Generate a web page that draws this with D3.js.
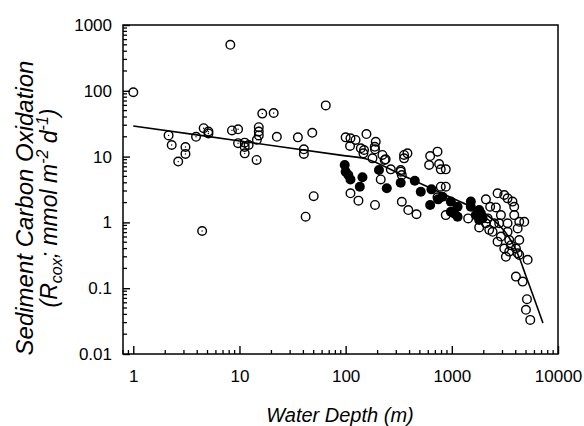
<!DOCTYPE html>
<html><head><meta charset="utf-8">
<script src="https://cdn.jsdelivr.net/npm/d3@7"></script>
<style>body{margin:0;background:#fff}svg{display:block}</style>
</head><body>
<svg id="c" width="584" height="426"></svg>
<script>
// Shallow open circles drawn with a centre dot (water depth m, rate mmol m-2 d-1)
const dotDepth = [2.15, 2.3, 2.65, 3.1, 3.1, 3.9, 4.6, 5.1, 5.1, 8.5, 9.7, 9.7, 11.2, 11.2, 11.2, 12.2, 14.5, 14.6, 15.2, 15.2, 15.2, 16.4, 21, 4.45];
const dotRate = [21, 15, 8.4, 14, 11, 20, 27, 24, 22.5, 25, 26, 16, 16.3, 14, 11.2, 15, 8.9, 18, 28, 24, 21, 45, 46, 0.74];
// Open circles
const openDepth = [1, 8.2, 22.5,
  35.5, 48.5, 40.4, 40.4, 50, 42, 65, 100, 111, 110, 124, 157, 192, 189, 139, 147, 222, 238, 179, 266, 330, 338, 382, 355, 214, 111, 132, 189, 338, 389, 465,
  188, 149, 233, 355, 625, 733, 611, 759, 787, 877, 787, 877, 877, 1425, 1810, 2094, 2297, 2697, 3117, 3350, 3726, 3870, 2600, 2094, 2250, 2794, 2900, 3473,
  4317, 4810, 4317, 3119, 4015, 3230, 4317, 5180, 4015, 4645, 5100, 4990, 5480, 330, 733,
  2506, 3350, 2900, 2421, 3350, 3603, 2697, 4170, 3473, 2173, 4170, 3870];
const openRate = [95, 500, 20,
  19.6, 23, 12.9, 11, 2.5, 1.22, 60, 19.6, 19, 14.5, 17.9, 22, 16.8, 12.9, 13.4, 11.2, 10.6, 9.1, 9.4, 6.4, 6.25, 5.25, 11.2, 9.4, 4.5, 2.77, 2.14, 1.84, 2.06, 1.54, 1.33,
  14.1, 12.6, 8.9, 10.6, 10.2, 11.9, 7.45, 7.7, 6.4, 6.4, 3.49, 3.49, 1.29, 1.15, 0.84, 2.24, 1.73, 2.77, 2.61, 2.32, 2.07, 1.73, 1.69, 0.97, 0.77, 0.97, 0.61, 0.54,
  1.02, 1.02, 0.54, 0.40, 0.40, 0.30, 0.32, 0.27, 0.15, 0.126, 0.068, 0.047, 0.033, 5.9, 2.41,
  0.97, 0.97, 1.29, 0.72, 0.72, 0.45, 0.51, 0.34, 0.36, 1.15, 0.81, 1.29];
// Filled circles
const filledDepth = [98, 100, 106, 111, 144, 136, 206, 244, 330, 448, 510, 643, 625, 817, 979, 1133, 1133, 1510, 1810, 979, 743, 1052, 1510, 1683, 1878, 1950, 1810];
const filledRate = [7.45, 5.9, 5.25, 4.5, 4.85, 3.49, 6.25, 3.3, 4.0, 4.3, 2.93, 3.18, 1.84, 2.46, 2.07, 1.73, 1.22, 2.07, 1.54, 1.45, 2.24, 1.37, 1.73, 1.29, 1.37, 1.15, 1.09];
// Fitted curve
const fitDepth = [1, 4.29, 24.4, 100, 154, 330, 634, 1216, 2004, 2600, 3230, 3760, 4285, 4990, 5940, 7210];
const fitRate = [29.2, 21.0, 14.1, 10.25, 9.3, 5.36, 3.31, 2.04, 1.39, 1.01, 0.69, 0.47, 0.30, 0.153, 0.071, 0.0296];
const xTickValues = [1, 10, 100, 1000, 10000];
const xTickLabels = ["1", "10", "100", "1000", "10000"];
const yTickValues = [0.01, 0.1, 1, 10, 100, 1000];
const yTickLabels = ["0.01", "0.1", "1", "10", "100", "1000"];

const svg = d3.select("#c");
const FONT = "'Liberation Sans', Arial, Helvetica, sans-serif";
const x = d3.scaleLog().domain([0.8, 10000]).range([123, 558]);
const y = d3.scaleLog().domain([0.01, 1000]).range([354, 25]);

// minor ticks
const xMinor = [];
for (let e = -1; e < 4; e++) for (let m = 2; m <= 9; m++) { const v = m * Math.pow(10, e); if (v >= 0.8 && v < 10000) xMinor.push(v); }
const yMinor = [];
for (let e = -2; e < 3; e++) for (let m = 2; m <= 9; m++) yMinor.push(m * Math.pow(10, e));

const g = svg.append("g");
g.selectAll("line.xm").data(xMinor).join("line")
  .attr("x1", d => x(d)).attr("x2", d => x(d)).attr("y1", 354).attr("y2", 350)
  .attr("stroke", "#000").attr("stroke-width", 1.3);
g.selectAll("line.ym").data(yMinor).join("line")
  .attr("y1", d => y(d)).attr("y2", d => y(d)).attr("x1", 123).attr("x2", 127)
  .attr("stroke", "#000").attr("stroke-width", 1.3);

const xAxis = d3.axisBottom(x).tickValues(xTickValues).tickFormat((d, i) => xTickLabels[i]).tickSizeInner(-8).tickSizeOuter(0).tickPadding(16);
const yAxis = d3.axisLeft(y).tickValues(yTickValues).tickFormat((d, i) => yTickLabels[i]).tickSizeInner(-7).tickSizeOuter(0).tickPadding(11);
const gx = svg.append("g").attr("transform", "translate(0,354)").call(xAxis);
const gy = svg.append("g").attr("transform", "translate(123,0)").call(yAxis);
[gx, gy].forEach(a => {
  a.select(".domain").remove();
  a.selectAll(".tick line").attr("stroke", "#000").attr("stroke-width", 1.4);
  a.selectAll(".tick text").attr("fill", "#000").style("font-family", FONT).style("font-size", "17px");
});

// frame
svg.append("rect").attr("x", 123).attr("y", 25).attr("width", 435).attr("height", 329)
  .attr("fill", "none").attr("stroke", "#000").attr("stroke-width", 1.5);

// fit curve
const fit = fitDepth.map((d, i) => [d, fitRate[i]]);
svg.append("path").datum(fit)
  .attr("d", d3.line().x(d => x(d[0])).y(d => y(d[1])).curve(d3.curveMonotoneX))
  .attr("fill", "none").attr("stroke", "#000").attr("stroke-width", 1.6);

// points
const openPts = openDepth.map((d, i) => [d, openRate[i]]);
const dotPts = dotDepth.map((d, i) => [d, dotRate[i]]);
const filledPts = filledDepth.map((d, i) => [d, filledRate[i]]);
svg.append("g").selectAll("circle").data(openPts.concat(dotPts)).join("circle")
  .attr("cx", d => x(d[0])).attr("cy", d => y(d[1])).attr("r", 4.3)
  .attr("fill", "none").attr("stroke", "#000").attr("stroke-width", 1.4);
svg.append("g").selectAll("circle").data(dotPts).join("circle")
  .attr("cx", d => x(d[0])).attr("cy", d => y(d[1])).attr("r", 0.7)
  .attr("fill", "#000");
svg.append("g").selectAll("circle").data(filledPts).join("circle")
  .attr("cx", d => x(d[0])).attr("cy", d => y(d[1])).attr("r", 5)
  .attr("fill", "#000");

// titles
svg.append("text").attr("x", 340).attr("y", 422).attr("text-anchor", "middle")
  .style("font-family", FONT).style("font-size", "20px").style("font-style", "italic")
  .text("Water Depth (m)");

const t1 = svg.append("text").attr("transform", "translate(33,208) rotate(-90)").attr("text-anchor", "middle")
  .style("font-family", FONT).style("font-size", "24px").style("font-style", "italic")
  .text("Sediment Carbon Oxidation");
const t2 = svg.append("text").attr("transform", "translate(57,208) rotate(-90)").attr("text-anchor", "middle")
  .style("font-family", FONT).style("font-size", "23px").style("font-style", "italic");
t2.append("tspan").text("(R");
t2.append("tspan").attr("dy", 5).style("font-size", "16px").text("cox");
t2.append("tspan").attr("dy", -5).text("; mmol m");
t2.append("tspan").attr("dy", -9).style("font-size", "16px").text("-2");
t2.append("tspan").attr("dy", 9).text(" d");
t2.append("tspan").attr("dy", -9).style("font-size", "16px").text("-1");
t2.append("tspan").attr("dy", 9).text(")");
</script>
</body></html>
